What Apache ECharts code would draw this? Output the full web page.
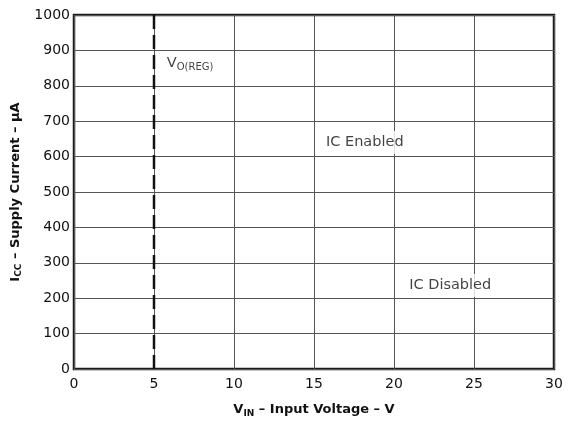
<!DOCTYPE html>
<html><head><meta charset="utf-8">
<script src="https://cdn.jsdelivr.net/npm/echarts@6/dist/echarts.min.js"></script>
<style>html,body{margin:0;padding:0;background:#fff}#c{width:569px;height:423px}</style>
</head><body><div id="c"></div>
<script>
var xTicks = [0, 5, 10, 15, 20, 25, 30];
var yTicks = [0, 100, 200, 300, 400, 500, 600, 700, 800, 900, 1000];
var vregX = [5, 5];
var vregY = [0, 1000];
var labelNames = ['VO(REG)', 'IC Enabled', 'IC Disabled'];
var labelX = [5.8, 15.5, 20.7];
var labelY = [863, 640, 236];

var FONT = 'DejaVu Sans, sans-serif';
var chart = echarts.init(document.getElementById('c'));
var labelData = labelNames.map(function (n, i) {
  var d = { name: n, value: [labelX[i], labelY[i]] };
  if (i === 0) d.label = { backgroundColor: 'transparent', padding: [0, 0, 0, 0] };
  return d;
});
chart.setOption({
  animation: false,
  textStyle: { fontFamily: FONT },
  grid: { left: 74, right: 15, top: 15, bottom: 46, show: true, borderColor: '#1a1a1a', borderWidth: 2.5, backgroundColor: '#fff' },
  xAxis: {
    type: 'value', min: xTicks[0], max: xTicks[xTicks.length - 1], interval: 5,
    axisLine: { show: false }, axisTick: { show: false },
    axisLabel: { color: '#111', fontSize: 14, margin: 8, fontFamily: FONT, formatter: function (v) { return String(v); } },
    splitLine: { show: true, lineStyle: { color: '#555', width: 1 } },
    name: '{b|V}{s|IN}{b| – Input Voltage – V}', nameLocation: 'middle', nameGap: 33,
    nameTextStyle: { rich: {
      b: { fontFamily: FONT, fontWeight: 'bold', fontSize: 13, color: '#111' },
      s: { fontFamily: FONT, fontWeight: 'bold', fontSize: 9, color: '#111', padding: [7, 0, 0, 0] }
    } }
  },
  yAxis: {
    type: 'value', min: yTicks[0], max: yTicks[yTicks.length - 1], interval: 100,
    axisLine: { show: false }, axisTick: { show: false },
    axisLabel: { color: '#111', fontSize: 14, margin: 4, fontFamily: FONT, formatter: function (v) { return String(v); } },
    splitLine: { show: true, lineStyle: { color: '#555', width: 1 } },
    name: '{b|I}{s|CC}{b| – Supply Current – μA}', nameLocation: 'middle', nameGap: 46,
    nameTextStyle: { rich: {
      b: { fontFamily: FONT, fontWeight: 'bold', fontSize: 13, color: '#111' },
      s: { fontFamily: FONT, fontWeight: 'bold', fontSize: 9, color: '#111', padding: [7, 0, 0, 0] }
    } }
  },
  series: [
    {
      type: 'line', data: vregX.map(function (x, i) { return [x, vregY[i]]; }),
      symbol: 'none', silent: true,
      lineStyle: { color: '#111', width: 2.5, type: [14, 6] }, z: 3
    },
    {
      type: 'scatter', data: labelData, symbolSize: 0, silent: true, z: 5,
      label: {
        show: true, position: 'right', distance: 0,
        formatter: function (p) {
          if (p.name === 'VO(REG)') return '{n|V}{s|O(REG)}';
          return '{n|' + p.name + '}';
        },
        backgroundColor: '#fff', padding: [4, 4, 4, 4],
        rich: {
          n: { fontFamily: FONT, fontSize: 14.5, color: '#111' },
          s: { fontFamily: FONT, fontSize: 10, color: '#111', padding: [8, 0, 0, 0] }
        }
      }
    }
  ]
});
</script></body></html>
